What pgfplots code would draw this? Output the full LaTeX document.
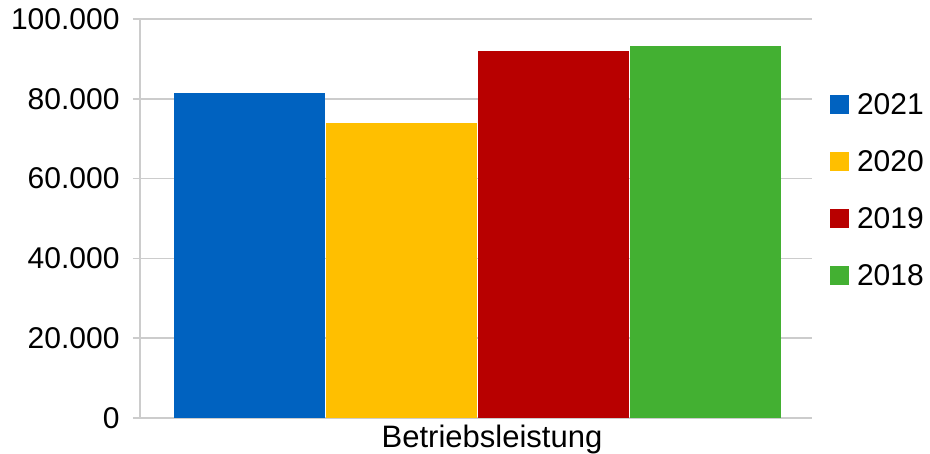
\documentclass[border=0pt]{standalone}
\usepackage{fontspec}
\setmainfont{Liberation Sans}
\usepackage{pgfplots}
\pgfplotsset{compat=1.18}
\definecolor{cBlue}{RGB}{0,98,192}
\definecolor{cYellow}{RGB}{255,191,0}
\definecolor{cRed}{RGB}{184,0,0}
\definecolor{cGreen}{RGB}{67,176,50}
\definecolor{cGrid}{RGB}{204,204,204}
\begin{document}
\begin{tikzpicture}
\path[use as bounding box] (-140pt,-36pt) rectangle (790pt,418pt);
\begin{axis}[
  at={(0pt,0pt)}, anchor=south west,
  scale only axis,
  width=672pt, height=399pt,
  xmin=-0.5, xmax=0.5,
  ymin=0, ymax=100000,
  ytick={0,20000,40000,60000,80000,100000},
  xtick={0},
  xticklabels={Betriebsleistung},
  scaled y ticks=false,
  /pgf/number format/.cd, fixed, 1000 sep={.}, assume math mode=true,
  /pgfplots/.cd,
  axis lines*=left,
  axis line style={draw=cGrid, line width=1.5pt, -},
  ymajorgrids,
  grid style={draw=cGrid, line width=1.5pt},
  tick align=outside,
  major tick length=7pt,
  ytick style={draw=cGrid, line width=1.5pt},
  xtick style={draw=none},
  tick label style={font=\fontsize{30}{36}\selectfont, text=black},
  xticklabel style={xshift=16pt, inner sep=0pt, font=\fontsize{31}{36}\selectfont},
  yticklabel style={xshift=-10pt},
  ybar,
  bar width=151pt,
  legend style={at={(1.0268,0.575)}, anchor=west, draw=none, fill=none,
    inner sep=0pt, outer sep=0pt, row sep=35pt,
    font=\fontsize{30}{36}\selectfont,
    nodes={inner sep=0pt, text height=22pt, text depth=0pt}},
  legend cell align=left,
  legend image code/.code={\fill[#1] (0pt,-10.5pt) rectangle (19pt,8pt);},
  /tikz/every odd column/.append style={column sep=8pt},
]
\addplot[fill=cBlue, draw=none, bar shift=-226.5pt] coordinates {(0,81400)};
\addplot[fill=cYellow, draw=none, bar shift=-74.5pt] coordinates {(0,73900)};
\addplot[fill=cRed, draw=none, bar shift=77.5pt] coordinates {(0,92000)};
\addplot[fill=cGreen, draw=none, bar shift=229.5pt] coordinates {(0,93300)};
\legend{2021,2020,2019,2018}
\end{axis}
\end{tikzpicture}
\end{document}
